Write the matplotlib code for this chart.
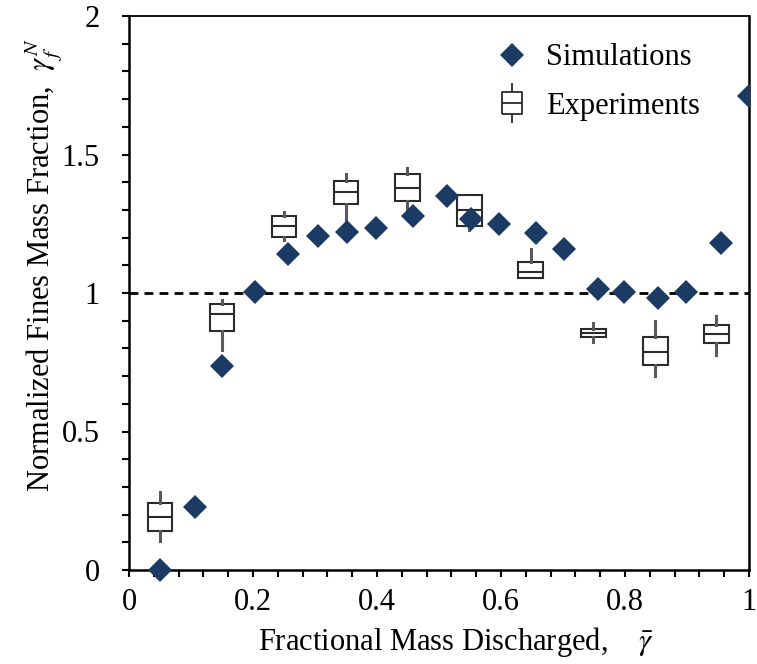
import matplotlib
matplotlib.use("Agg")
from matplotlib import pyplot as plt
from matplotlib.lines import Line2D
from matplotlib.path import Path
from matplotlib.patches import Rectangle
from matplotlib.ticker import MultipleLocator, FuncFormatter

plt.rcParams["font.family"] = ["Liberation Serif", "DejaVu Serif"]
plt.rcParams["mathtext.fontset"] = "stix"

# simulations (diamonds)
sim_x = [0.05, 0.106, 0.15, 0.204, 0.256, 0.305, 0.352, 0.398, 0.458, 0.513,
         0.552, 0.596, 0.657, 0.701, 0.757, 0.799, 0.854, 0.899, 0.955, 1.0]
sim_y = [0.0, 0.227, 0.737, 1.005, 1.140, 1.206, 1.221, 1.234, 1.279, 1.350,
         1.266, 1.249, 1.216, 1.159, 1.014, 1.005, 0.981, 1.005, 1.182, 1.711]

# experiments (box plots)
exp_x = [0.05, 0.15, 0.25, 0.35, 0.449, 0.549, 0.648, 0.749, 0.849, 0.947]
exp_whislo = [0.105, 0.794, 1.191, 1.261, 1.303, 1.227, 1.053, 0.822, 0.700, 0.775]
exp_q1 = [0.141, 0.864, 1.201, 1.320, 1.332, 1.241, 1.053, 0.842, 0.739, 0.819]
exp_med = [0.193, 0.923, 1.241, 1.366, 1.380, 1.301, 1.076, 0.857, 0.787, 0.853]
exp_q3 = [0.243, 0.959, 1.278, 1.403, 1.428, 1.354, 1.113, 0.870, 0.842, 0.886]
exp_whishi = [0.282, 0.975, 1.292, 1.428, 1.452, 1.354, 1.158, 0.891, 0.900, 0.918]

navy = "#1b3a64"
boxc = "#2b2b2b"
whc = "#5a5a5a"
fs = 22

fig = plt.figure(figsize=(7.57, 6.64), dpi=100)
ax = fig.add_axes([129 / 757, 1 - 570 / 664, 620 / 757, 554 / 664])

ax.axhline(1, color="black", lw=2, ls=(0, (3.2, 2.2)), zorder=1)

stats = []
for i in range(len(exp_x)):
    stats.append(dict(med=exp_med[i], q1=exp_q1[i], q3=exp_q3[i],
                      whislo=exp_whislo[i], whishi=exp_whishi[i], fliers=[]))
ax.bxp(stats, positions=exp_x, widths=0.04, showcaps=False, showfliers=False,
       patch_artist=True, manage_ticks=False,
       boxprops=dict(facecolor="white", edgecolor=boxc, linewidth=1.5),
       medianprops=dict(color=boxc, linewidth=1.5),
       whiskerprops=dict(color=whc, linewidth=2.2), zorder=2)

pts, = ax.plot(sim_x, sim_y, ls="none", marker="D", ms=12, color=navy,
               markeredgewidth=0, zorder=3)
clip = Rectangle((0, -0.1), 1, 1.2, transform=ax.transAxes, visible=False)
ax.add_patch(clip)
pts.set_clip_path(clip)

ax.set_xlim(0, 1)
ax.set_ylim(0, 2)
ax.xaxis.set_major_locator(MultipleLocator(0.2))
ax.xaxis.set_minor_locator(MultipleLocator(0.04))
ax.yaxis.set_major_locator(MultipleLocator(0.5))
ax.yaxis.set_minor_locator(MultipleLocator(0.1))
fmt = FuncFormatter(lambda v, p: "%g" % round(v, 2))
ax.xaxis.set_major_formatter(fmt)
ax.yaxis.set_major_formatter(fmt)
ax.tick_params(which="both", direction="out", length=5, width=1.5,
               labelsize=fs, top=False, right=False)
ax.tick_params(axis="x", pad=8)
ax.tick_params(axis="y", pad=16)
for s in ["left", "bottom", "right"]:
    ax.spines[s].set_linewidth(1.8)
ax.spines["top"].set_linewidth(1.3)

ax.set_xlabel(r"Fractional Mass Discharged,    $\bar{\gamma}$", fontsize=fs)
ax.set_ylabel(r"Normalized Fines Mass Fraction,  $\gamma_f^N$", fontsize=fs)
ax.xaxis.set_label_coords(0.527, -0.1)
ax.yaxis.set_label_coords(-0.104, 0.55)

# box-shaped legend marker
bw, bh, wh = 0.25, 0.28, 0.5
verts = [(-bw, -bh), (bw, -bh), (bw, bh), (-bw, bh), (-bw, -bh),
         (-bw, 0), (bw, 0), (0, bh), (0, wh), (0, -bh), (0, -wh)]
codes = [Path.MOVETO, Path.LINETO, Path.LINETO, Path.LINETO, Path.LINETO,
         Path.MOVETO, Path.LINETO, Path.MOVETO, Path.LINETO, Path.MOVETO, Path.LINETO]
box_marker = Path(verts, codes)

h1 = Line2D([], [], ls="none", marker="D", ms=12, color=navy, markeredgewidth=0)
h2 = Line2D([], [], ls="none", marker=box_marker, ms=29, markerfacecolor="none",
            markeredgecolor=boxc, markeredgewidth=1.3)
ax.legend([h1, h2], ["Simulations", "Experiments"], loc="upper left",
          bbox_to_anchor=(488 / 757, 1 - 28 / 664), bbox_transform=fig.transFigure,
          frameon=False, fontsize=fs, handlelength=0.6, handletextpad=0.8,
          labelspacing=0.65, borderpad=0)

fig.savefig("out.png", dpi=100)
